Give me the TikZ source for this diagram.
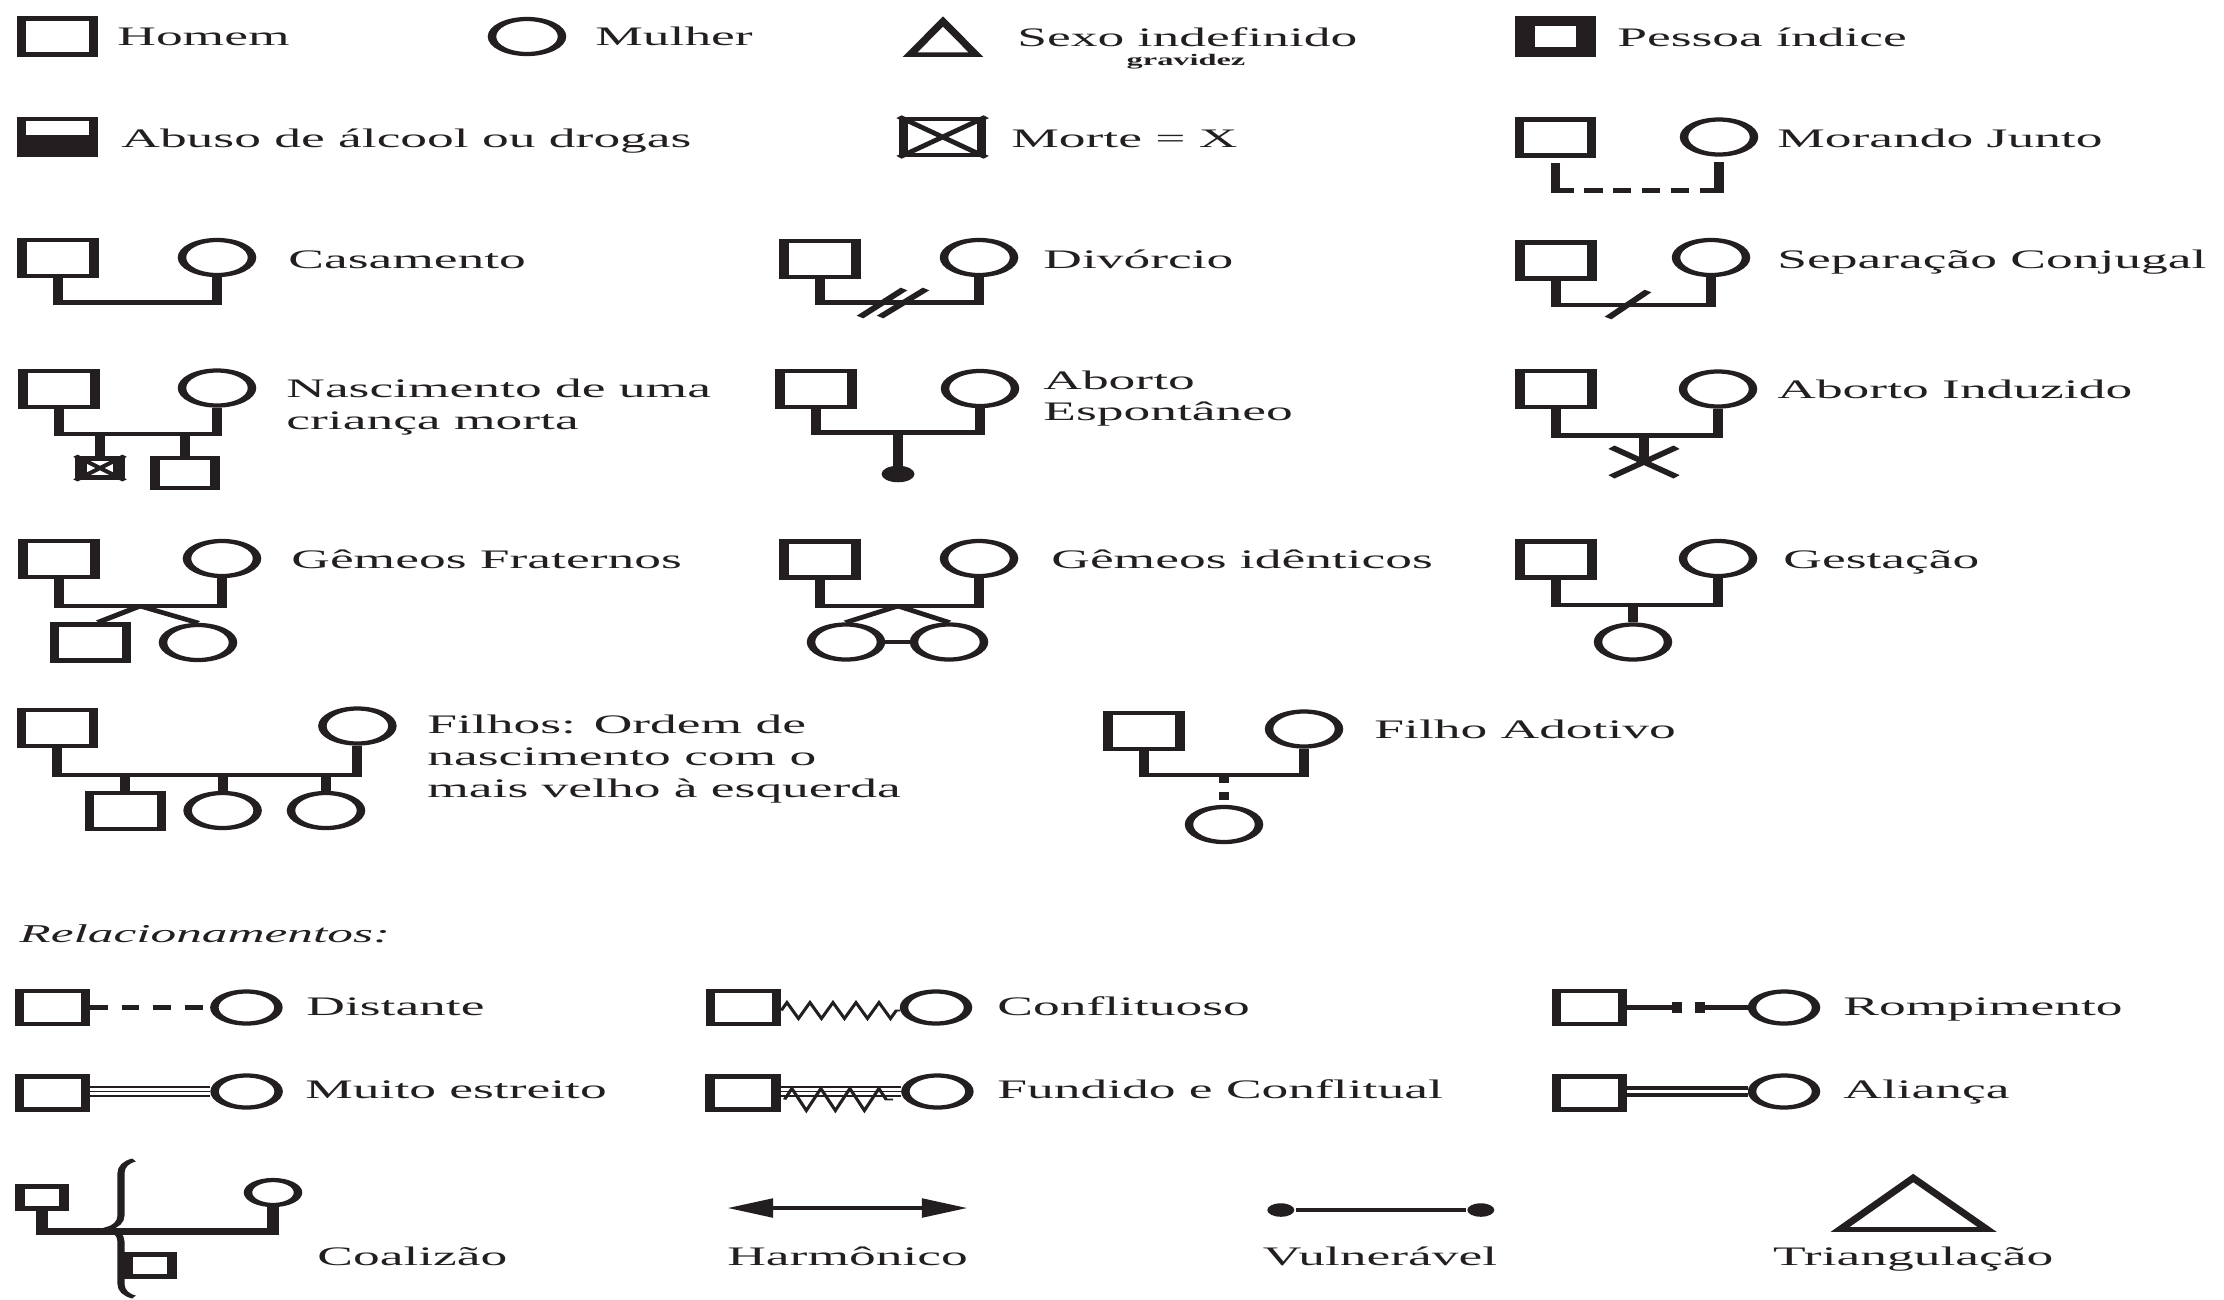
\documentclass[tikz,border=0pt]{standalone}
\usepackage{fontspec}
\setmainfont{Liberation Serif}
\usetikzlibrary{calc,arrows.meta,shapes.misc,decorations.pathmorphing,decorations.pathreplacing}

\definecolor{tinta}{RGB}{35,31,32}

\tikzset{
  homem/.style={rectangle, draw, line width=1.3pt, minimum size=3.6mm, inner sep=0pt},
  mulher/.style={circle, draw, line width=1.2pt, minimum size=3.5mm, inner sep=0pt},
  legenda/.style={anchor=base west, inner sep=0pt, font=\fontsize{7.6}{9}\selectfont},
  laco/.style={line width=1.4pt},
  fino/.style={line width=0.45pt},
  ponto/.style={circle, fill, inner sep=0pt, minimum size=1.4mm},
}

\begin{document}
\begin{tikzpicture}[x=0.01cm, y=-0.01cm]
  \path[use as bounding box, fill=white] (0,0) rectangle (2224,1299);
  \begin{scope}[transform canvas={xscale=2}, color=tinta]

  \node[homem] (hom) at (28.7,36.5) {};
  \node[legenda] (t-hom) at (58,45) {Homem};

  \node[mulher] (mul) at (263.5,36.5) {};
  \node[legenda] (t-mul) at (297,45) {Mulher};

  \draw[line width=1.3pt] (455,54.7) -- (471.5,21.5) -- (488,54.7) -- cycle;
  \node[legenda] (t-sex) at (508,46) {Sexo indefinido};
  \node[legenda, anchor=base, font=\fontsize{4.6}{5}\selectfont\bfseries] (t-gra) at (593,65) {gravidez};

  \node[homem, line width=2.85pt, minimum size=3.05mm] (pes) at (777.75,36.5) {};
  \node[legenda] (t-pes) at (808,46) {Pessoa índice};

  \node[homem] (abu) at (28.7,137) {};
  \fill ($(abu.east)+(0,-2)$) rectangle (abu.south west);
  \node[legenda] (t-abu) at (60,147) {Abuso de álcool ou drogas};

  \node[homem, minimum width=3.9mm] (mrt) at (471.3,137) {};
  \draw[line width=1.1pt] (mrt.north west) -- (mrt.south east) (mrt.north east) -- (mrt.south west);
  \node[legenda] (t-mrt) at (505,147) {Morte = X};

  \node[homem] (jun-h) at (777.75,137.5) {};
  \node[mulher] (jun-m) at (859.5,137) {};
  \coordinate (jun-b) at (0,190.5);
  \draw[laco] ($(jun-h.south)+(0,5)$) -- ($(jun-h.south |- jun-b)+(0,2.5)$);
  \draw[laco] ($(jun-m.south)+(0,5)$) -- ($(jun-m.south |- jun-b)+(0,2.5)$);
  \draw[laco, dash pattern=on 2.6pt off 1.5pt] (jun-h.south |- jun-b) -- (jun-m.south |- jun-b);
  \node[legenda] (t-jun) at (888,147) {Morando Junto};

  \node[homem] (cas-h) at (29,258) {};
  \node[mulher] (cas-m) at (108.5,257.5) {};
  \coordinate (cas-b) at (0,302.5);
  \draw[laco] (cas-h.south) |- (cas-m.south |- cas-b) -- (cas-m.south);
  \node[legenda] (t-cas) at (143.5,268) {Casamento};

  \node[homem] (div-h) at (410,259) {};
  \node[mulher] (div-m) at (489.5,257.5) {};
  \coordinate (div-b) at (0,302.5);
  \draw[laco] (div-h.south) |- (div-m.south |- div-b) -- (div-m.south);
  \coordinate (div-c) at (446,303);
  \draw[line width=1.2pt] (div-c) ++(-16,14) -- ++(22,-28);
  \draw[line width=1.2pt] (div-c) ++(-6,14) -- ++(23,-28);
  \node[legenda] (t-div) at (521,268) {Divórcio};

  \node[homem] (sep-h) at (778,260.5) {};
  \node[mulher] (sep-m) at (855.5,257.5) {};
  \coordinate (sep-b) at (0,305);
  \draw[laco] (sep-h.south) |- (sep-m.south |- sep-b) -- (sep-m.south);
  \coordinate (sep-c) at (814,304.5);
  \draw[line width=1.2pt] (sep-c) ++(-10,13.5) -- ++(20,-27);
  \node[legenda] (t-sep) at (888,268) {Separação Conjugal};

  \node[homem] (nas-h) at (29.5,389) {};
  \node[mulher] (nas-m) at (108.5,388) {};
  \coordinate (nas-b) at (0,434);
  \draw[laco] (nas-h.south) |- (nas-m.south |- nas-b) -- (nas-m.south);
  \node[homem, line width=1.6pt, minimum size=1.9mm] (nas-f1) at (50,468) {};
  \draw[line width=0.9pt] (nas-f1.north west) -- (nas-f1.south east) (nas-f1.north east) -- (nas-f1.south west);
  \node[homem, minimum size=3mm] (nas-f2) at (92.5,473) {};
  \draw[laco] (nas-f1.north) -- (nas-f1.north |- nas-b);
  \draw[laco] (nas-f2.north) -- (nas-f2.north |- nas-b);
  \node[legenda] (t-nas1) at (142.5,397) {Nascimento de uma};
  \node[legenda] (t-nas2) at (142.5,429) {criança morta};

  \node[homem] (esp-h) at (408,389) {};
  \node[mulher] (esp-m) at (490,388.5) {};
  \coordinate (esp-b) at (0,432.5);
  \draw[laco] (esp-h.south) |- (esp-m.south |- esp-b) -- (esp-m.south);
  \node[ponto, minimum size=1.65mm] (esp-f) at (449,474) {};
  \draw[laco] (esp-f.center) -- (esp-f.center |- esp-b);
  \node[legenda] (t-esp1) at (521,389) {Aborto};
  \node[legenda] (t-esp2) at (521,420) {Espontâneo};

  \node[homem] (ind-h) at (778,389) {};
  \node[mulher] (ind-m) at (859,389) {};
  \coordinate (ind-b) at (0,435.5);
  \draw[laco] (ind-h.south) |- (ind-m.south |- ind-b) -- (ind-m.south);
  \node[draw, cross out, line width=1.3pt, minimum width=2.8mm, minimum height=2.5mm, inner sep=0pt] (ind-f) at (822,462) {};
  \draw[laco] (ind-f.center) -- (ind-f.center |- ind-b);
  \node[legenda] (t-ind) at (888,398) {Aborto Induzido};

  \node[homem] (fra-h) at (29.5,559) {};
  \node[mulher] (fra-m) at (111,558.5) {};
  \coordinate (fra-b) at (0,606);
  \draw[laco] (fra-h.south) |- (fra-m.south |- fra-b) -- (fra-m.south);
  \coordinate (fra-a) at (70,606);
  \node[homem] (fra-f1) at (45.2,642.5) {};
  \node[mulher] (fra-f2) at (99,642.5) {};
  \draw[line width=1.2pt] (fra-a) -- ($(fra-f1.north)+(4,0)$);
  \draw[line width=1.2pt] (fra-a) -- (fra-f2.north);
  \node[legenda] (t-fra) at (145,568) {Gêmeos Fraternos};

  \node[homem] (ide-h) at (410,559.5) {};
  \node[mulher] (ide-m) at (489.5,558.5) {};
  \coordinate (ide-b) at (0,606);
  \draw[laco] (ide-h.south) |- (ide-m.south |- ide-b) -- (ide-m.south);
  \coordinate (ide-a) at (449,606);
  \node[mulher] (ide-f1) at (423,642) {};
  \node[mulher] (ide-f2) at (474.5,642) {};
  \draw[line width=1.2pt] (ide-a) -- (ide-f1.north);
  \draw[line width=1.2pt] (ide-a) -- (ide-f2.north);
  \draw[laco] (ide-f1.east) -- (ide-f2.west);
  \node[legenda] (t-ide) at (525,568) {Gêmeos idênticos};

  \node[homem] (ges-h) at (778,559.5) {};
  \node[mulher] (ges-m) at (859,558.5) {};
  \coordinate (ges-b) at (0,605);
  \draw[laco] (ges-h.south) |- (ges-m.south |- ges-b) -- (ges-m.south);
  \node[mulher] (ges-f) at (816.5,642) {};
  \draw[laco] (ges-f.north) -- (ges-f.north |- ges-b);
  \node[legenda] (t-ges) at (891,568) {Gestação};

  \node[homem] (fil-h) at (28.7,728) {};
  \node[mulher] (fil-m) at (178.7,726) {};
  \coordinate (fil-b) at (0,775);
  \draw[laco] (fil-h.south) |- (fil-m.south |- fil-b) -- (fil-m.south);
  \node[homem] (fil-f1) at (62.6,811) {};
  \node[mulher] (fil-f2) at (111.3,810.5) {};
  \node[mulher] (fil-f3) at (163,810.5) {};
  \draw[laco] (fil-f1.north) -- (fil-f1.north |- fil-b);
  \draw[laco] (fil-f2.north) -- (fil-f2.north |- fil-b);
  \draw[laco] (fil-f3.north) -- (fil-f3.north |- fil-b);
  \node[legenda] (t-fil1) at (213,733) {Filhos: Ordem de};
  \node[legenda] (t-fil2) at (213,765) {nascimento com o};
  \node[legenda] (t-fil3) at (213,797) {mais velho à esquerda};

  \node[homem] (ado-h) at (572,731) {};
  \node[mulher] (ado-m) at (652,729) {};
  \coordinate (ado-b) at (0,775);
  \draw[laco] (ado-h.south) |- (ado-m.south |- ado-b) -- (ado-m.south);
  \node[mulher] (ado-f) at (612,824.5) {};
  \draw[laco, dash pattern=on 2.4pt off 2.4pt] (ado-f.north |- ado-b) -- (ado-f.north);
  \node[legenda] (t-ado) at (686.5,738) {Filho Adotivo};

  \node[legenda, font=\fontsize{7.3}{8.5}\selectfont\itshape] (t-rel) at (9,942) {Relacionamentos:};

  \node[homem, minimum size=3.3mm] (dis-h) at (26.2,1007.5) {};
  \node[mulher, minimum size=3.2mm] (dis-m) at (123.2,1007.5) {};
  \draw[laco, dash pattern=on 2.5pt off 2pt] (dis-h.east) -- (dis-m.west);
  \node[legenda] (t-dis) at (152.5,1015) {Distante};

  \node[homem, minimum size=3.3mm] (con-h) at (371.8,1007.5) {};
  \node[mulher, minimum size=3.2mm] (con-m) at (468,1007.5) {};
  \draw[line width=0.5pt, decorate, decoration={zigzag, segment length=1.15mm, amplitude=0.8mm}] ($(con-h.east)+(0,3)$) -- ($(con-m.west)+(0,3)$);
  \node[legenda] (t-con) at (498,1015) {Conflituoso};

  \node[homem, minimum size=3.3mm] (rom-h) at (794.9,1007.5) {};
  \node[mulher, minimum size=3.2mm] (rom-m) at (892,1007.5) {};
  \coordinate (rom-a) at (838.5,1007.5);
  \coordinate (rom-c) at (850,1007.5);
  \draw[laco] (rom-h.east) -- (rom-a);
  \draw[laco] (rom-c) -- (rom-m.west);
  \draw[line width=1.5pt] (rom-a) ++(0,-5.5) -- ++(0,11);
  \draw[line width=1.5pt] (rom-c) ++(0,-5.5) -- ++(0,11);
  \node[legenda] (t-rom) at (921,1015) {Rompimento};

  \node[homem, minimum size=3.3mm] (mes-h) at (26.2,1093) {};
  \node[mulher, minimum size=3.2mm] (mes-m) at (123.3,1091.5) {};
  \foreach \d in {-4.6,0,4.6}
    \draw[fino] ($(mes-h.east |- mes-m)+(0,\d)$) -- ($(mes-m.west)+(0,\d)$);
  \node[legenda] (t-mes) at (152,1098) {Muito estreito};

  \node[homem, minimum size=3.3mm] (fun-h) at (371.5,1093) {};
  \node[mulher, minimum size=3.2mm] (fun-m) at (468.7,1091.5) {};
  \foreach \d in {-4.6,0,4.6}
    \draw[fino] ($(fun-h.east |- fun-m)+(0,\d)$) -- ($(fun-m.west)+(0,\d)$);
  \draw[line width=0.5pt, decorate, decoration={zigzag, segment length=1.45mm, amplitude=1.1mm}] ($(fun-h.east |- fun-m)+(2,8)$) -- ($(fun-m.west)+(-4,8)$);
  \node[legenda] (t-fun) at (498,1098) {Fundido e Conflitual};

  \node[homem, minimum size=3.3mm] (ali-h) at (794.9,1093) {};
  \node[mulher, minimum size=3.2mm] (ali-m) at (892,1091.5) {};
  \draw[line width=1.1pt, double, double distance=0.9pt] (ali-h.east |- ali-m) -- (ali-m.west);
  \node[legenda] (t-ali) at (921,1098) {Aliança};

  \node[homem, minimum size=2.2mm] (coa-h) at (21,1197.5) {};
  \node[mulher, minimum size=2.5mm] (coa-m) at (136.5,1192.5) {};
  \coordinate (coa-b) at (0,1231.5);
  \draw[line width=1.8pt] (coa-h.south) |- (coa-m.south |- coa-b) -- (coa-m.south);
  \draw[line width=1pt, decorate, decoration={brace, amplitude=1.3mm}] (67,1297) -- (67,1160);
  \node[homem, minimum size=2.2mm] (coa-f) at (75,1265.5) {};
  \node[legenda] (t-coa) at (158,1265) {Coalizão};

  \coordinate (har-a) at (363.5,1208);
  \coordinate (har-b) at (484,1208);
  \draw[laco, {Triangle[length=2.3mm, width=1.8mm]}-{Triangle[length=2.3mm, width=1.8mm]}] (har-a) -- (har-b);
  \node[legenda, anchor=base] (t-har) at (423.8,1265) {Harmônico};

  \node[ponto, minimum size=1.35mm] (vul-a) at (640.4,1210) {};
  \node[ponto, minimum size=1.35mm] (vul-b) at (740.4,1210) {};
  \draw[line width=1.2pt] (vul-a) -- (vul-b);
  \node[legenda, anchor=base] (t-vul) at (690,1265) {Vulnerável};

  \draw[line width=1.4pt] (920,1229.5) -- (956.6,1178) -- (993.6,1229.5) -- cycle;
  \node[legenda, anchor=base] (t-tri) at (956.6,1265) {Triangulação};

  \end{scope}
\end{tikzpicture}
\end{document}
